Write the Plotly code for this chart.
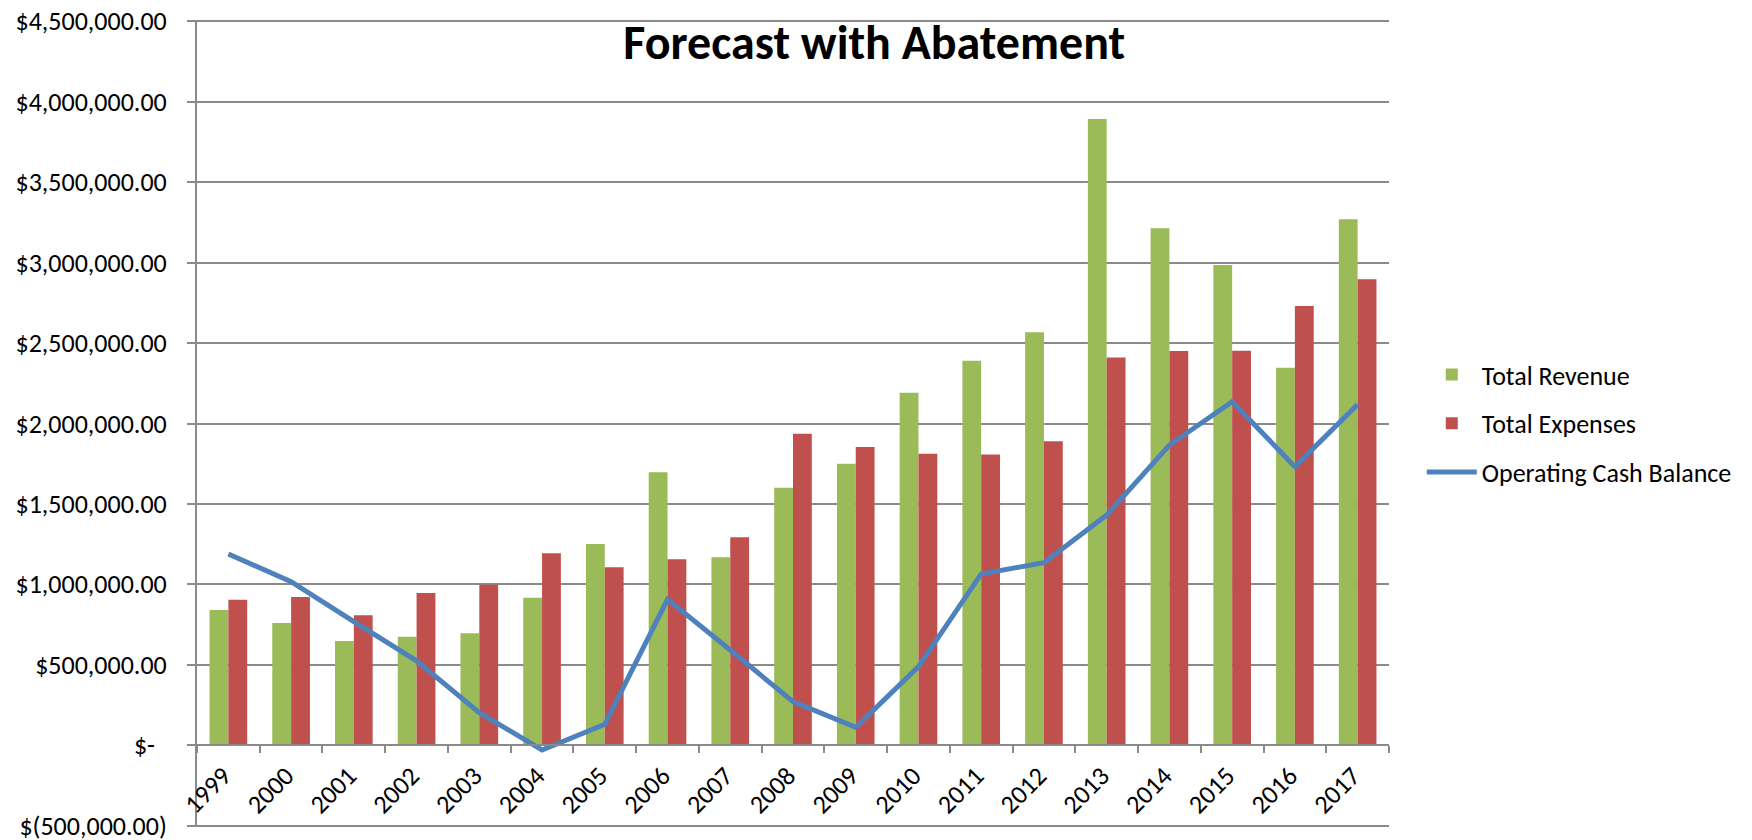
import plotly.graph_objects as go

years = [str(y) for y in range(1999, 2018)]
total_revenue = [841000, 760000, 648000, 675000, 696000, 917000, 1251000, 1697000, 1168000, 1601000,
                 1750000, 2191000, 2390000, 2567000, 3892000, 3213000, 2985000, 2347000, 3269000]
total_expenses = [905000, 922000, 808000, 947000, 998000, 1193000, 1106000, 1156000, 1293000, 1937000,
                  1854000, 1812000, 1808000, 1889000, 2411000, 2451000, 2452000, 2730000, 2896000]
operating_cash = [1189000, 1017000, 768000, 525000, 203000, -29000, 130000, 907000, 592000, 271000,
                  112000, 489000, 1065000, 1135000, 1431000, 1866000, 2135000, 1732000, 2118000]

y_tickvals = [-500000, 0, 500000, 1000000, 1500000, 2000000, 2500000, 3000000, 3500000, 4000000, 4500000]
y_ticktext = ["$(500,000.00)", "$-\u00a0\u00a0", "$500,000.00", "$1,000,000.00", "$1,500,000.00",
              "$2,000,000.00", "$2,500,000.00", "$3,000,000.00", "$3,500,000.00", "$4,000,000.00",
              "$4,500,000.00"]

FONT = "Calibri, Carlito, 'Open Sans', sans-serif"
GRID = "#8a8a8a"
TXT = 26
EPS = 8000
y_lo, y_hi = -500000 - EPS, 4500000 + EPS
zero_pos = (0 - y_lo) / (y_hi - y_lo)

fig = go.Figure()
fig.add_trace(go.Bar(x=years, y=total_revenue, name="Total Revenue", marker_color="#9BBB59",
                     marker_line_width=0, legendgroup="a"))
fig.add_trace(go.Bar(x=years, y=total_expenses, name="Total Expenses", marker_color="#C0504D",
                     marker_line_width=0, legendgroup="b"))
fig.add_trace(go.Scatter(x=years, y=operating_cash, name="Operating Cash Balance", mode="lines",
                         line=dict(color="#4F81BD", width=5), legendgroup="c"))

fig.update_layout(
    width=1744, height=832,
    margin=dict(l=189, r=363, t=12.4, b=12.7, autoexpand=False),
    paper_bgcolor="white", plot_bgcolor="white",
    barmode="group", bargap=0.4, bargroupgap=0,
    font=dict(family=FONT, size=TXT, color="black"),
    title=dict(text="<b>Forecast with Abatement</b>", x=0.4967, xref="container", xanchor="center",
               y=0.9587, yref="container", yanchor="middle",
               font=dict(family=FONT, size=48, color="black")),
    legend=dict(x=1.0275, xanchor="left", y=0.5, yanchor="middle", font=dict(size=TXT),
                tracegroupgap=12, itemwidth=50),
    xaxis=dict(type="category", anchor="free", position=zero_pos, showline=True, linecolor=GRID,
               linewidth=2, ticks="outside", tickson="boundaries", ticklen=7, tickcolor=GRID,
               tickwidth=2, tickangle=-45, showgrid=False, tickfont=dict(size=TXT),
               ticklabelstandoff=4, ticklabelshift=-5, automargin=False),
    yaxis=dict(range=[y_lo, y_hi], tickvals=y_tickvals, ticktext=y_ticktext,
               showgrid=True, gridcolor=GRID, gridwidth=2, zeroline=False,
               showline=True, linecolor=GRID, linewidth=2,
               ticks="outside", ticklen=8, tickcolor=GRID, tickwidth=2, ticklabelstandoff=15,
               ticklabeloverflow="allow", tickfont=dict(size=TXT), automargin=False),
)

fig.write_html("out.html")
